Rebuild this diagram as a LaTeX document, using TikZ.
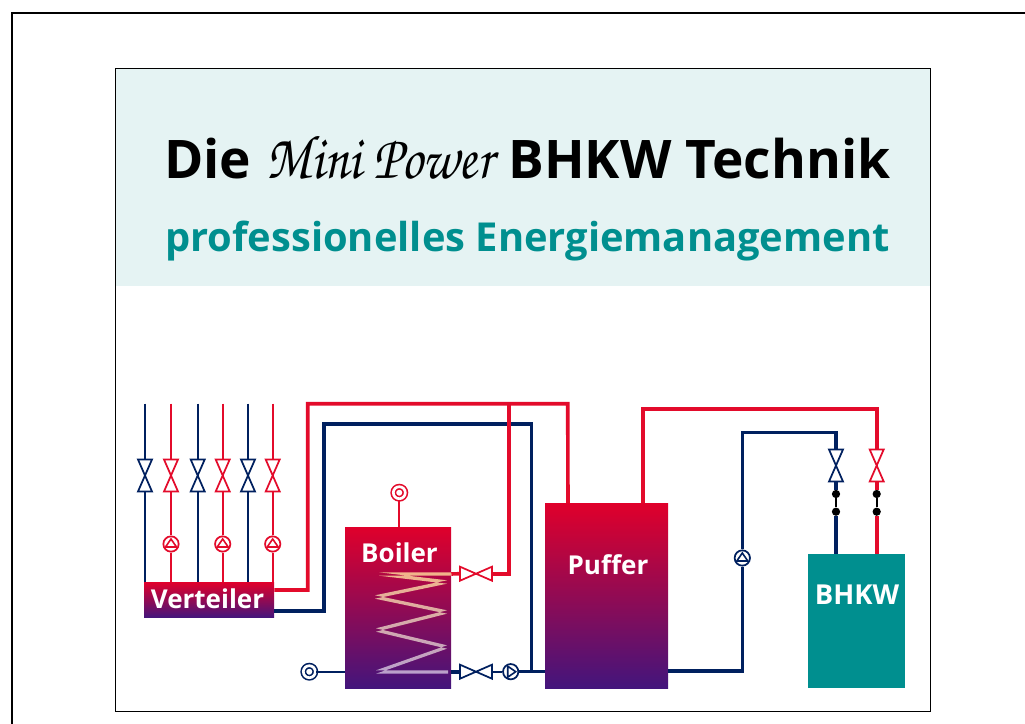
\documentclass[tikz,border=0pt]{standalone}
\usepackage[T1,TU]{fontenc}
\usepackage{fontspec}
\setmainfont{Open Sans}
\usetikzlibrary{positioning}
\definecolor{pipered}{HTML}{E30B2B}
\definecolor{pipeblue}{HTML}{00205F}
\definecolor{tanktop}{HTML}{E0002B}
\definecolor{tankbottom}{HTML}{43157C}
\definecolor{teal}{HTML}{008F8F}
\definecolor{headerbg}{HTML}{E5F3F3}
\definecolor{coiltop}{HTML}{F2B48A}
\definecolor{coilbottom}{HTML}{B9A0CC}
\tikzset{
    thinpipe/.style={line width=1.5pt},
    thickpipe/.style={line width=2.7pt},
    tank/.style={inner sep=0pt, top color=tanktop, bottom color=tankbottom},
    tanklabel/.style={anchor=base, text=white, font=\fontsize{19.5}{22}\bfseries},
    pumpnode/.style={circle, draw, fill=white, inner sep=0pt, minimum size=11.5pt, line width=1.3pt},
    sensor/.style={circle, draw, inner sep=0pt, minimum size=9pt, line width=1.2pt, double=white, double distance=2pt},
    dotnode/.style={circle, fill=black, inner sep=0pt, minimum size=6.2pt},
    valve/.pic={
        \draw[pic actions, fill=white, line width=1.3pt, line join=miter]
            (-7,-16) -- (7,-16) -- (-7,16) -- (7,16) -- cycle;
        \coordinate (-a) at (0,-16);
        \coordinate (-b) at (0,16);
    },
    pump/.pic={
        \node[pumpnode, pic actions] (-c) at (0,0) {};
        \draw[pic actions, line width=1.2pt, line join=miter] (0,-5) -- (5.5,3) -- (-5.5,3) -- cycle;
    },
}
\begin{document}
\begin{tikzpicture}[x=0.75pt, y=-0.75pt]
    \useasboundingbox (0,0) rectangle (1025,724);
    \draw[line width=1.5pt] (1025,13) -- (12,13) -- (12,724);
    \fill[headerbg] (115.5,69) rectangle (930.5,286);
    \draw[line width=0.75pt] (115.5,69) rectangle (930.5,711);

    \node[anchor=base west, inner sep=0pt, font=\fontsize{39.9}{44}\bfseries] (title) at (164,178)
        {Die \makebox[172pt]{\scalebox{0.85}[1]{\usefont{T1}{pzc}{mb}{it}\fontsize{47}{44}\selectfont Mini Power}} BHKW Technik};
    \node[anchor=base west, inner sep=0pt, text=teal, font=\fontsize{29.9}{32}\bfseries] (subtitle) at (165,251)
        {professionelles Energiemanagement};

    \node[tank, minimum width=97.5pt, minimum height=26.5pt] (verteiler) at (209,600) {};
    \node[tank, minimum width=79.5pt, minimum height=120.75pt] (boiler) at (398,607.5) {};
    \node[tank, minimum width=92.25pt, minimum height=138.75pt] (puffer) at (606.5,595.5) {};
    \node[fill=teal, inner sep=0pt, minimum width=73pt, minimum height=100.5pt] (bhkw) at (856.5,621) {};

    \node[tanklabel] (verteilertext) at (207.5,608) {Verteiler};
    \node[tanklabel] (boilertext) at (399.5,562) {Boiler};
    \node[tanklabel] (puffertext) at (608,574) {Puffer};
    \node[tanklabel, font=\fontsize{20.6}{22}\bfseries] (bhkwtext) at (857,604) {BHKW};

    \foreach \nm/\x/\col in {a/145/pipeblue, b/171/pipered, c/197.7/pipeblue, d/222.7/pipered, e/248/pipeblue, f/272.7/pipered} {
        \coordinate (t\nm) at (\x,403.5);
        \pic[draw=\col] (v\nm) at (\x,475.5) {valve};
        \draw[thinpipe, \col] (t\nm) -- (v\nm-a);
    }
    \foreach \nm/\col in {a/pipeblue, c/pipeblue, e/pipeblue} {
        \draw[thinpipe, \col] (v\nm-b) -- (v\nm-b |- verteiler.north);
    }
    \foreach \nm in {b, d, f} {
        \pic[draw=pipered] (p\nm) at (v\nm-b |- 0,544) {pump};
        \draw[thinpipe, pipered] (v\nm-b) -- (p\nm-c);
        \draw[thinpipe, pipered] (p\nm-c) -- (p\nm-c |- verteiler.north);
    }

    \coordinate (vr) at (verteiler.east |- 0,590);
    \coordinate (vb) at (verteiler.east |- 0,610.7);
    \coordinate (pr) at (568,503);
    \coordinate (br) at (509,403.7);
    \coordinate (bi) at (boiler.east |- 0,574);
    \coordinate (bo) at (boiler.east |- 0,671.7);
    \coordinate (po) at (puffer.east |- 0,670.7);

    \draw[thickpipe, pipered] (vr) -- (307.7,590) -- (307.7,403.7) -- (567.7,403.7) -- (pr);
    \draw[thickpipe, pipeblue] (vb) -- (324,610.7) -- (324,424) -- (531.3,424) -- (531.3,671.7);

    \pic[draw=pipered, rotate=90] (vboiler) at (476,573.7) {valve};
    \draw[thickpipe, pipered] (bi) -- (vboiler-a);
    \draw[thickpipe, pipered] (vboiler-b) -- (509,573.7) -- (br);

    \pic[draw=pipeblue, rotate=90] (vruck) at (476,671.7) {valve};
    \pic[draw=pipeblue, rotate=-90] (pruck) at (510.7,671.7) {pump};
    \draw[thickpipe, pipeblue] (bo) -- (vruck-a);
    \draw[thinpipe, pipeblue] (vruck-b) -- (pruck-c);
    \draw[line width=2pt, pipeblue] (pruck-c) -- (puffer.west |- 0,671.7);

    \node[sensor, draw=pipered] (fuehler) at (399.3,492.7) {};
    \draw[thinpipe, pipered] (fuehler) -- (fuehler |- boiler.north);
    \node[sensor, draw=pipeblue] (zulauf) at (309.3,671.7) {};
    \draw[thinpipe, pipeblue] (zulauf) -- (boiler.west |- zulauf);

    \shade[top color=coiltop, bottom color=coilbottom]
        (451,572.3) -- (379,572.3) -- (447,580.3) -- (375,595.3) -- (447,610.3) -- (376,628.3)
        -- (447,645.3) -- (376,670.3) -- (448,670.3) -- (448,673.7) -- (376,673.7) -- (447,648.7)
        -- (376,631.7) -- (447,613.7) -- (375,598.7) -- (447,583.7) -- (379,575.7) -- (451,575.7) -- cycle;

    \pic[draw=pipeblue] (pkreis) at (742.3,558) {pump};
    \pic[draw=pipeblue] (vbhkwb) at (836,465.5) {valve};
    \pic[draw=pipered] (vbhkwr) at (876.7,465.5) {valve};
    \draw[thickpipe, pipeblue] (po) -- (742.3,670.7) -- (pkreis-c);
    \draw[thickpipe, pipeblue] (pkreis-c) -- (742.3,432.3) -- (836,432.3) -- (vbhkwb-a);
    \draw[thickpipe, pipered] (643,503) -- (643,409) -- (876.7,409) -- (vbhkwr-a);

    \node[dotnode] (db1) at (836,494) {};
    \node[dotnode] (db2) at (836,511.7) {};
    \node[dotnode] (dr1) at (876.7,494) {};
    \node[dotnode] (dr2) at (876.7,511.7) {};
    \draw[thickpipe, pipeblue] (vbhkwb-b) -- (db1);
    \draw[thickpipe, pipered] (vbhkwr-b) -- (dr1);
    \draw[thinpipe, black] (db1) -- (db2);
    \draw[thinpipe, black] (dr1) -- (dr2);
    \draw[thickpipe, pipeblue] (db2) -- (db2 |- bhkw.north);
    \draw[thickpipe, pipered] (dr2) -- (dr2 |- bhkw.north);
\end{tikzpicture}
\end{document}
